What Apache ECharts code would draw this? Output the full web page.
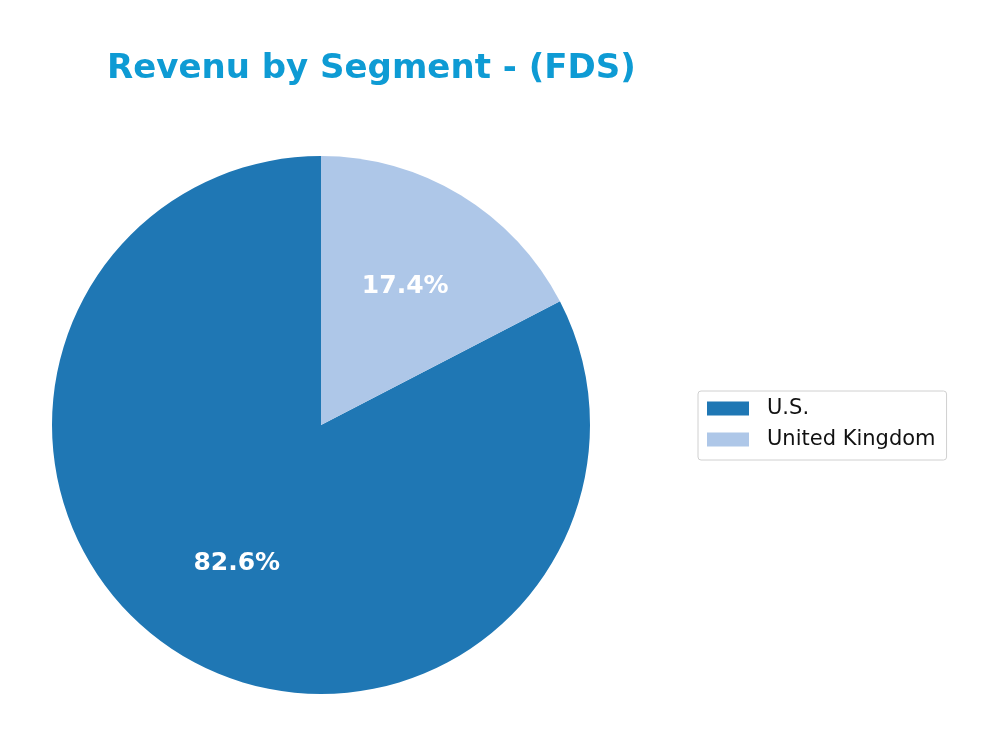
<!DOCTYPE html>
<html>
<head>
<meta charset="utf-8">
<script src="https://cdn.jsdelivr.net/npm/echarts@6/dist/echarts.min.js"></script>
<style>
html, body { margin: 0; padding: 0; background: #fff; }
#chart { width: 1000px; height: 747px; }
</style>
</head>
<body>
<div id="chart"></div>
<script>
var segments = ['U.S.', 'United Kingdom'];
var shares = [82.6, 17.4];
var colors = ['#1f77b4', '#aec7e8'];

var dom = document.getElementById('chart');
var myChart = echarts.init(dom);

var pieData = segments.map(function (name, i) {
    return { value: shares[i], name: name, itemStyle: { color: colors[i] } };
});

option = {
    animation: false,
    title: {
        text: 'Revenu by Segment - (FDS)',
        left: 102,
        top: 47,
        textStyle: {
            fontFamily: 'DejaVu Sans',
            fontWeight: 'bold',
            fontSize: 34,
            color: '#0e9bd4'
        }
    },
    legend: {
        orient: 'vertical',
        left: 698,
        top: 391,
        padding: [7, 11, 10, 9],
        itemWidth: 42,
        itemHeight: 14,
        itemGap: 10,
        icon: 'rect',
        borderColor: '#d0d0d0',
        borderWidth: 1,
        borderRadius: 3,
        data: segments,
        textStyle: {
            fontFamily: 'DejaVu Sans',
            fontSize: 21,
            color: '#111',
            padding: [0, 0, 0, 13]
        }
    },
    series: [
        {
            type: 'pie',
            center: [321, 425],
            radius: [0, 269],
            startAngle: 90,
            clockwise: false,
            label: { show: false },
            labelLine: { show: false },
            emphasis: { disabled: true },
            data: pieData
        },
        {
            // label carrier: places the percentages at about 0.6 of the pie radius
            type: 'pie',
            center: [321, 425],
            radius: [0, 318],
            startAngle: 90,
            clockwise: false,
            silent: true,
            z: 5,
            itemStyle: { color: 'transparent', borderWidth: 0 },
            label: {
                show: true,
                position: 'inside',
                formatter: function (p) { return p.value.toFixed(1) + '%'; },
                fontFamily: 'DejaVu Sans',
                fontWeight: 'bold',
                fontSize: 25,
                color: '#fff'
            },
            labelLine: { show: false },
            emphasis: { disabled: true },
            data: segments.map(function (name, i) { return { value: shares[i], name: name }; })
        }
    ]
};
if (option && typeof option === "object") {
    myChart.setOption(option, true);
}
</script>
</body>
</html>
